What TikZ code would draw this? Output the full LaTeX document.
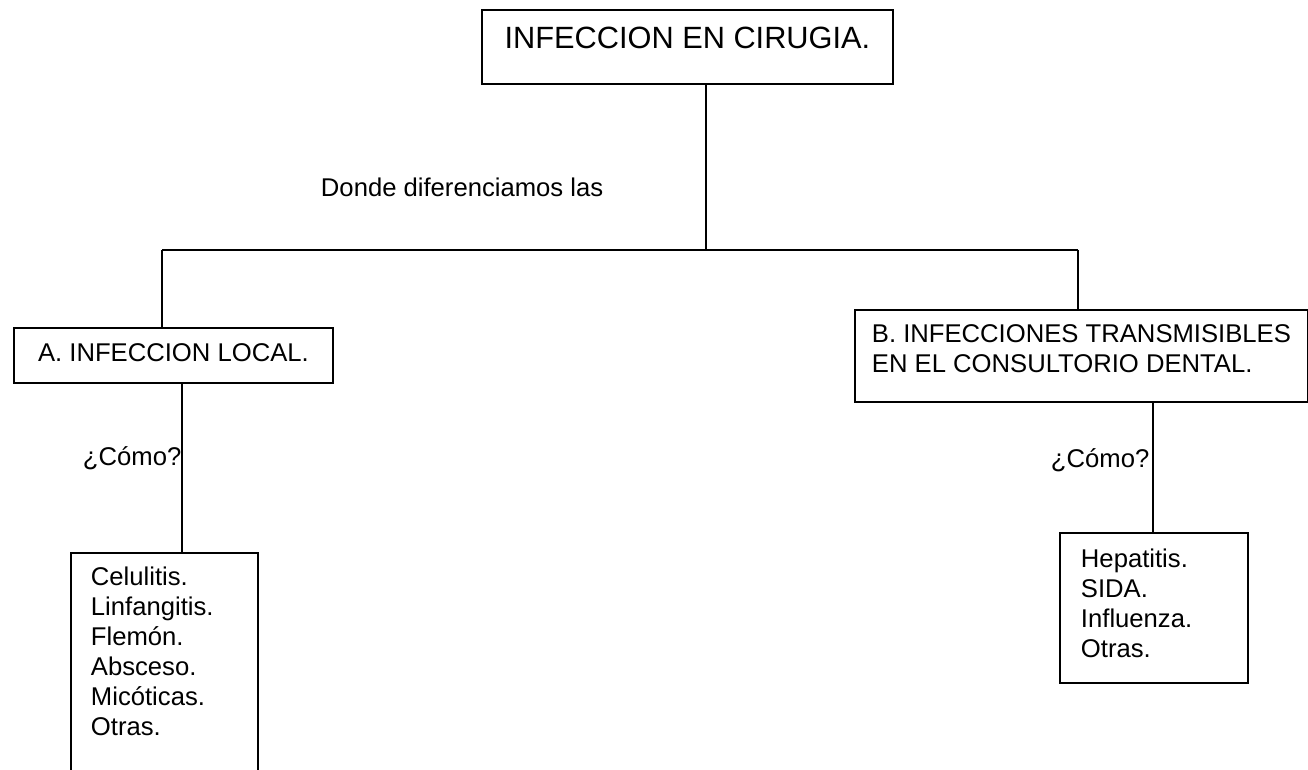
\documentclass[tikz,border=0pt]{standalone}
\usepackage{fontspec}
\setmainfont{Liberation Sans}

\begin{document}
\begin{tikzpicture}[
  x=0.02cm, y=-0.02cm,
  line width=1.1pt,
  caja/.style={draw,inner sep=0pt,anchor=north west,font=\fontsize{14.6}{17.07}\selectfont},
  lista/.style={caja,inner xsep=0.42cm,align=left},
  rotulo/.style={inner sep=0pt,anchor=base west,font=\fontsize{14.6}{17.07}\selectfont}
]
  \useasboundingbox (0,0) rectangle (1308,770);
  % cajas
  \node[caja,minimum width=8.22cm,text height=0.78cm,text depth=0.70cm,
        font=\fontsize{17.5}{21}\selectfont] (infec) at (481,9) {INFECCION EN CIRUGIA.};
  \node[caja,minimum width=6.38cm,text height=0.68cm,text depth=0.42cm] (local) at (13,327) {A. INFECCION LOCAL.};
  \node[caja,align=left,minimum width=9.06cm,text height=1.26cm,text depth=0.58cm] (transm) at (854,309)
    {B. INFECCIONES TRANSMISIBLES\\EN EL CONSULTORIO DENTAL.};
  \node[lista,inner xsep=0.40cm,text width=2.94cm,text height=0.66cm,text depth=4.3cm] (tiposA) at (70,552)
    {Celulitis.\\Linfangitis.\\Flemón.\\Absceso.\\Micóticas.\\Otras.};
  \node[lista,text width=2.92cm,text height=0.70cm,text depth=2.30cm] (tiposB) at (1059,532)
    {Hepatitis.\\SIDA.\\Influenza.\\Otras.};
  % rotulos
  \node[rotulo] (donde) at (320,197) {Donde diferenciamos las};
  \node[rotulo] (comoA) at (82,465) {¿Cómo?};
  \node[rotulo] (comoB) at (1050,467) {¿Cómo?};
  % conectores
  \coordinate (tronco) at (706,250);
  \coordinate (izq) at (162,250);
  \coordinate (der) at (1078,250);
  \coordinate (bajaA) at (182,400);
  \coordinate (bajaB) at (1153,420);
  \draw (infec.south -| tronco) -- (tronco);
  \draw (izq) -- (der);
  \draw (izq) -- (izq |- local.north);
  \draw (der) -- (der |- transm.north);
  \draw (bajaA |- local.south) -- (bajaA |- tiposA.north);
  \draw (bajaB |- transm.south) -- (bajaB |- tiposB.north);
\end{tikzpicture}
\end{document}
